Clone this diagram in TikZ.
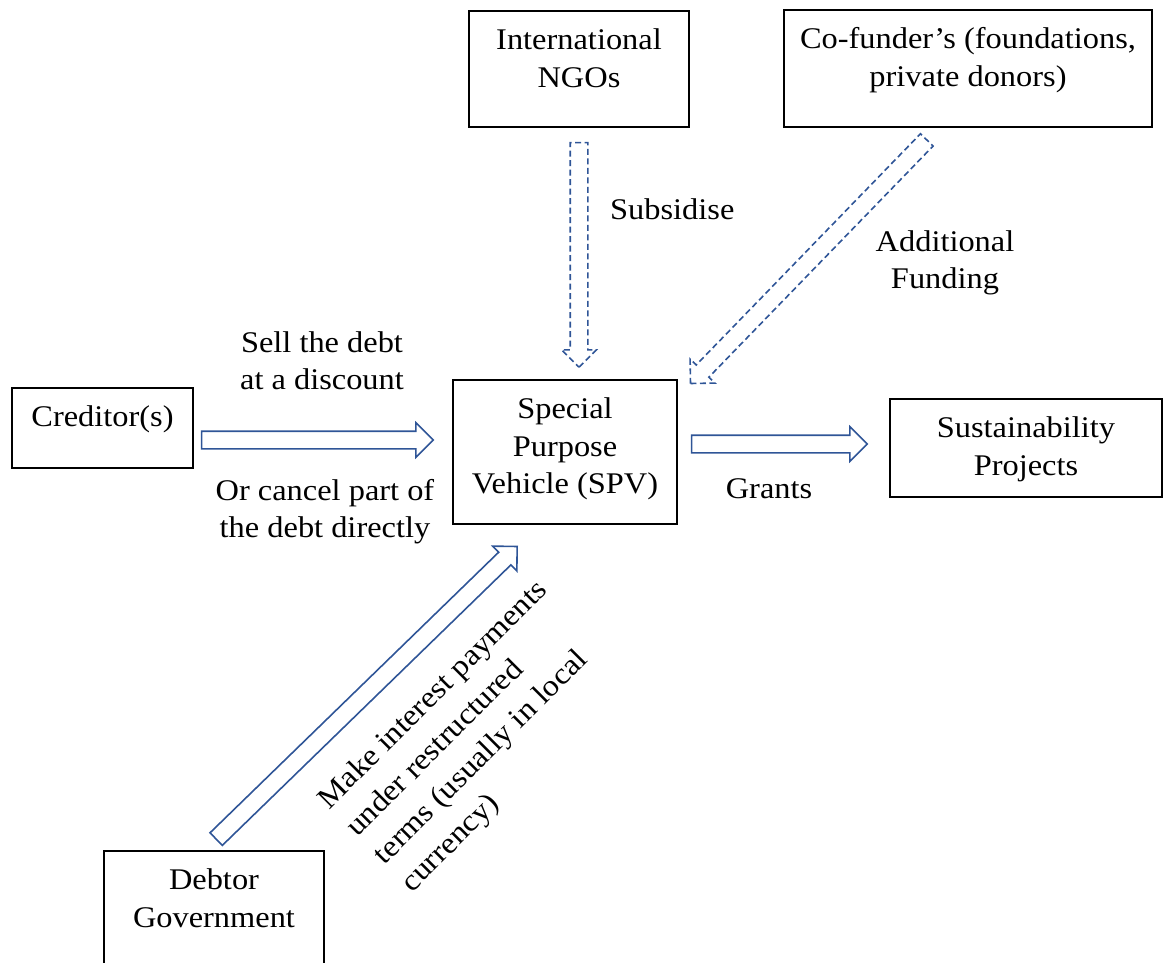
\documentclass[tikz,border=0pt]{standalone}
\usepackage{fontspec}
\setmainfont{Liberation Serif}[FakeStretch=1.08]
\usetikzlibrary{shapes.arrows,calc}
\definecolor{flowblue}{RGB}{47,85,151}

\begin{document}
\begin{tikzpicture}[x=1pt,y=-1pt,font=\fontsize{30}{37.5}\selectfont,
                    box/.style={draw,line width=1.4pt,inner sep=0pt},
                    boxtext/.style={anchor=north,yshift=-13pt,inner sep=0pt,align=center}]
  \tikzstyle{flow}=[single arrow,draw=flowblue,line width=1.6pt,sloped,allow upside down,
                    pos=1,anchor=tip,inner xsep=0pt,inner ysep=8pt,minimum width=33pt,
                    single arrow head extend=8.5pt,single arrow tip angle=90]
  \tikzstyle{dashflow}=[flow,dash pattern=on 6pt off 3.5pt]
  \useasboundingbox (0,0) rectangle (1165,963);

  \node[box,minimum width=220pt,minimum height=116pt] (ngo)    at (579,69)
       [label={[boxtext]north:{\strut International\\NGOs}}] {};
  \node[box,minimum width=368pt,minimum height=117pt] (cofund) at (968,68.5)
       [label={[boxtext]north:{\strut Co-funder’s (foundations,\\private donors)}}] {};
  \node[box,minimum width=181pt,minimum height=80pt]  (cred)   at (102.5,428)
       [label={[boxtext]north:{\strut Creditor(s)}}] {};
  \node[box,minimum width=224pt,minimum height=144pt] (spv)    at (565,452)
       [label={[boxtext]north:{\strut Special\\Purpose\\Vehicle (SPV)}}] {};
  \node[box,minimum width=272pt,minimum height=98pt]  (sust)   at (1026,448)
       [label={[boxtext]north:{\strut Sustainability\\Projects}}] {};
  \node[box,minimum width=220pt,minimum height=130pt] (debtor) at (214,916)
       [label={[boxtext]north:{\strut Debtor\\Government}}] {};

  \path let \p1=([xshift=9pt,yshift=-12pt]cred.east), \p2=([xshift=-18pt,yshift=12pt]spv.west),
            \n1={veclen(\x2-\x1,\y2-\y1)} in (\p1) -- node[flow,minimum height=\n1]{} (\p2);
  \path let \p1=([xshift=15pt,yshift=8pt]spv.east), \p2=([xshift=-21pt,yshift=4pt]sust.west),
            \n1={veclen(\x2-\x1,\y2-\y1)} in (\p1) -- node[flow,minimum height=\n1]{} (\p2);
  \path let \p1=([yshift=-16pt]ngo.south), \p2=([xshift=14pt,yshift=11pt]spv.north),
            \n1={veclen(\x2-\x1,\y2-\y1)} in (\p1) -- node[dashflow,minimum height=\n1]{} (\p2);
  \path let \p1=([xshift=-42pt,yshift=-13pt]cofund.south), \p2=([xshift=12pt,yshift=-5pt]spv.north east),
            \n1={veclen(\x2-\x1,\y2-\y1)} in (\p1) -- node[dashflow,minimum height=\n1]{} (\p2);
  \path let \p1=([xshift=3pt,yshift=12pt]debtor.north), \p2=([xshift=-47pt,yshift=-21pt]spv.south),
            \n1={veclen(\x2-\x1,\y2-\y1)} in (\p1) -- node[flow,minimum height=\n1]{} (\p2);

  \node[anchor=base west,inner sep=0pt] (subsidise) at (610,219) {Subsidise};
  \node[anchor=north,inner sep=0pt,align=center] (addfund) at (945,225) {\strut Additional\\Funding};
  \node[anchor=north,inner sep=0pt,align=center] (sell)    at (322,326) {\strut Sell the debt\\at a discount};
  \node[anchor=north,inner sep=0pt,align=center] (cancel)  at (325,474) {\strut Or cancel part of\\the debt directly};
  \node[anchor=base,inner sep=0pt] (grants) at (769,498) {Grants};
  \node[anchor=north west,inner sep=0pt,align=left,rotate=45,font=\fontsize{30}{39}\selectfont]
       (payments) at (310,791)
       {\strut Make interest payments\\under restructured\\terms (usually in local\\currency)};

\end{tikzpicture}
\end{document}
